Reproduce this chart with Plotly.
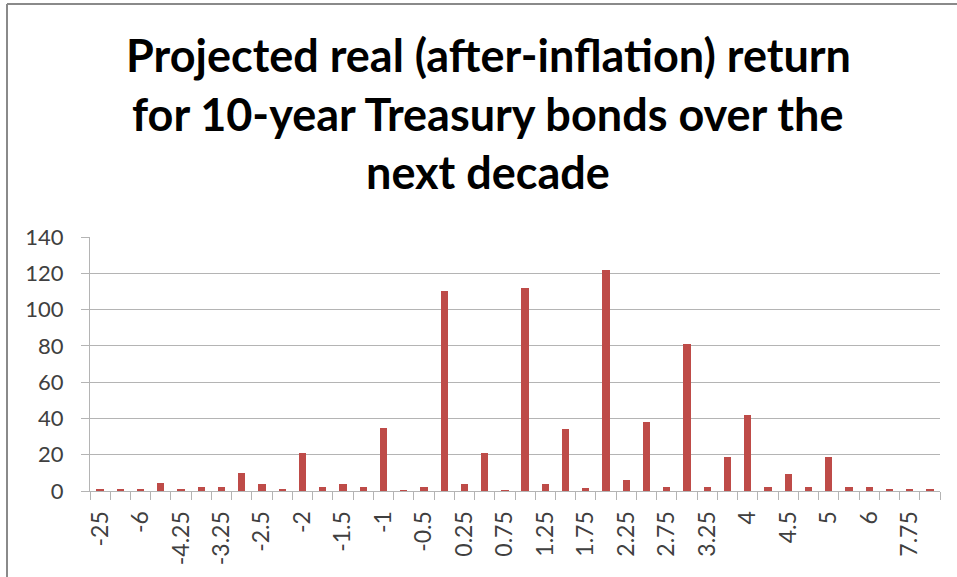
import plotly.graph_objects as go

categories = ["-25", "-8", "-6", "-5", "-4.25", "-3.5", "-3.25", "-3", "-2.5", "-2.25",
              "-2", "-1.75", "-1.5", "-1.25", "-1", "-0.75", "-0.5", "0", "0.25", "0.5",
              "0.75", "1", "1.25", "1.5", "1.75", "2", "2.25", "2.5", "2.75", "3",
              "3.25", "3.5", "4", "4.25", "4.5", "4.75", "5", "5.5", "6", "7",
              "7.75", "10"]
values = [1, 1, 1, 4.5, 1, 2, 2, 10, 4, 1,
          21, 2, 4, 2, 35, 0.5, 2, 110, 4, 21,
          0.5, 112, 4, 34, 1.5, 122, 6, 38, 2, 81,
          2, 18.5, 42, 2, 9.5, 2, 18.5, 2, 2, 1,
          1, 1]
title_lines = ["Projected real (after-inflation) return",
               "for 10-year Treasury bonds over the",
               "next decade"]
y_ticks = [0, 20, 40, 60, 80, 100, 120, 140]

idx = list(range(len(categories)))
shown = idx[::2]

W, H = 957, 577
L, R, T, B = 90, 17, 237, 86
PW, PH = W - L - R, H - T - B

def px(x):
    return (x - L) / PW

def py(y):
    return (H - B - y) / PH

FONT = "Lato"
GRID = "#b4b4b4"
TXT = "#404040"

fig = go.Figure(go.Bar(
    x=idx, y=values, width=0.36,
    marker=dict(color="#BE4B48", line=dict(width=0)),
))

for i, (txt, yy) in enumerate(zip(title_lines, [55, 114, 172])):
    fig.add_annotation(text=f"<b>{txt}</b>", xref="paper", yref="paper",
                       x=px(488), y=py(yy), xanchor="center", yanchor="middle",
                       showarrow=False, font=dict(family=FONT, size=45, color="#000000"))

fig.add_shape(type="line", xref="paper", yref="paper",
              x0=px(7), x1=px(W + 5), y0=py(4), y1=py(4),
              line=dict(color="#8a8a8a", width=2))
fig.add_shape(type="line", xref="paper", yref="paper",
              x0=px(7), x1=px(7), y0=py(4), y1=py(H + 5),
              line=dict(color="#8a8a8a", width=2))

fig.update_layout(
    width=W, height=H,
    margin=dict(l=L, r=R, t=T, b=B),
    paper_bgcolor="white", plot_bgcolor="white",
    showlegend=False,
    bargap=0,
)
fig.update_xaxes(
    range=[-0.5, len(categories) - 0.5],
    tickmode="array", tickvals=shown, ticktext=[categories[i] for i in shown],
    tickangle=-90, ticks="outside", ticklen=10, tickcolor="rgba(0,0,0,0)",
    tickfont=dict(family=FONT, size=23, color=TXT),
    showgrid=False, zeroline=False,
    showline=True, linecolor=GRID, linewidth=1,
    minor=dict(tick0=0.5, dtick=1, ticks="outside", ticklen=8, tickcolor=GRID, showgrid=False),
)
fig.update_yaxes(
    range=[0, 140], tickmode="array", tickvals=y_ticks,
    ticks="outside", ticklen=8, tickcolor=GRID,
    tickfont=dict(family=FONT, size=22, color=TXT),
    showgrid=True, gridcolor=GRID, gridwidth=1,
    zeroline=False, showline=True, linecolor=GRID, linewidth=1,
    ticklabelstandoff=13,
)

fig.write_html("out.html", config={"displayModeBar": False},
               post_script="document.body.style.margin='0';document.body.style.overflow='hidden';")
